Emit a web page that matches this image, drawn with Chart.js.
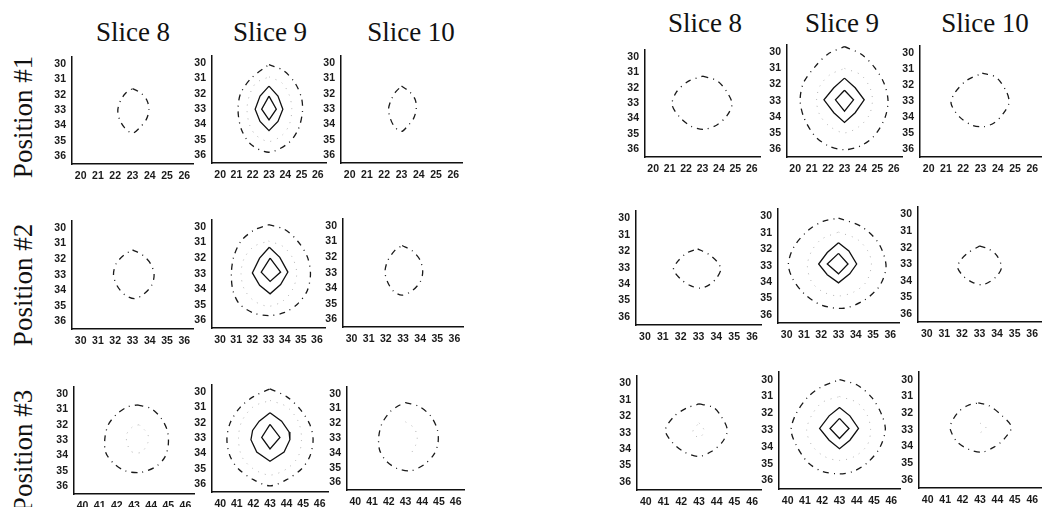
<!DOCTYPE html>
<html><head><meta charset="utf-8">
<script src="https://cdn.jsdelivr.net/npm/chart.js@4"></script>
<style>
html,body{margin:0;padding:0;background:#fff;}
body{width:1042px;height:507px;overflow:hidden;position:relative;}
canvas{position:absolute;}
.title{position:absolute;font-family:"Liberation Serif",serif;font-size:27px;line-height:1;width:200px;text-align:center;color:#111;white-space:nowrap;}
.rowlab{position:absolute;font-family:"Liberation Serif",serif;font-size:27px;line-height:30px;height:30px;width:200px;text-align:center;color:#111;white-space:nowrap;transform:rotate(-90deg);}
</style></head><body>
<script>
// ---------- text ----------
const sliceTitles = ['Slice 8', 'Slice 9', 'Slice 10'];
const rowLabels = ['Position #1', 'Position #2', 'Position #3'];
// ---------- tick labels ----------
const yTicks = [30, 31, 32, 33, 34, 35, 36];
const xTicksP1 = [20, 21, 22, 23, 24, 25, 26];
const xTicksP2 = [30, 31, 32, 33, 34, 35, 36];
const xTicksP3 = [40, 41, 42, 43, 44, 45, 46];

// ---------- contour vertices [x, y] (left figure) ----------
const L1S8_dash = [[23.0,31.6],[23.5,31.9],[23.85,32.4],[23.95,33.0],[23.8,33.6],[23.45,34.1],[23.0,34.5],[22.55,34.15],[22.25,33.6],[22.15,33.0],[22.3,32.4],[22.6,31.9],[23.0,31.6]];
const L1S9_dash = [[23.0,30.1],[23.9,30.5],[24.6,31.3],[25.0,32.3],[25.05,33.2],[24.8,34.3],[24.2,35.2],[23.0,35.8],[21.9,35.3],[21.3,34.3],[21.1,33.1],[21.25,32.0],[21.9,31.0],[23.0,30.1]];
const L1S9_dot = [[23.0,30.9],[23.8,31.3],[24.25,32.1],[24.4,33.0],[24.25,34.0],[23.8,34.7],[23.0,35.1],[22.2,34.7],[21.8,34.0],[21.65,33.0],[21.8,32.1],[22.2,31.3],[23.0,30.9]];
const L1S9_solidOuter = [[23.0,31.5],[23.55,32.15],[23.85,33.0],[23.55,33.8],[23.0,34.4],[22.45,33.8],[22.15,33.0],[22.45,32.15],[23.0,31.5]];
const L1S9_solidInner = [[23.0,32.15],[23.45,33.0],[23.0,33.7],[22.55,33.0],[23.0,32.15]];
const L1S10_dash = [[23.0,31.5],[23.45,31.85],[23.8,32.4],[23.85,33.0],[23.7,33.6],[23.35,34.1],[23.0,34.45],[22.6,34.15],[22.35,33.6],[22.25,33.0],[22.4,32.4],[22.65,31.9],[23.0,31.5]];

const L2S8_dash = [[33.0,31.4],[33.6,31.75],[34.05,32.3],[34.25,33.0],[34.1,33.7],[33.6,34.3],[33.1,34.55],[32.55,34.3],[32.1,33.7],[31.9,33.0],[32.05,32.3],[32.5,31.75],[33.0,31.4]];
const L2S9_dash = [[33.0,29.85],[34.0,30.15],[34.8,30.9],[35.4,31.9],[35.6,33.0],[35.4,34.1],[34.8,34.95],[34.0,35.5],[33.0,35.7],[32.0,35.5],[31.2,34.95],[30.8,34.1],[30.7,33.0],[30.85,31.9],[31.3,30.9],[32.1,30.2],[33.0,29.85]];
const L2S9_dot = [[33.0,30.9],[33.9,31.25],[34.5,32.0],[34.75,33.0],[34.5,34.0],[33.9,34.75],[33.0,35.1],[32.1,34.75],[31.5,34.0],[31.3,33.0],[31.5,32.0],[32.1,31.25],[33.0,30.9]];
const L2S9_solidOuter = [[33.05,31.3],[33.7,31.95],[34.2,32.9],[33.75,33.7],[33.1,34.3],[32.45,33.75],[32.0,32.95],[32.45,32.0],[33.05,31.3]];
const L2S9_solidInner = [[33.1,32.0],[33.75,32.9],[33.1,33.5],[32.55,32.9],[33.1,32.0]];
const L2S10_dash = [[32.95,31.25],[33.55,31.6],[34.0,32.2],[34.15,32.95],[34.0,33.6],[33.55,34.15],[32.95,34.45],[32.45,34.2],[32.1,33.6],[31.95,32.95],[32.1,32.25],[32.5,31.6],[32.95,31.25]];

const L3S8_dash = [[43.2,30.7],[44.0,30.95],[44.6,31.6],[44.95,32.4],[45.0,33.3],[44.8,34.1],[44.3,34.7],[43.4,35.1],[42.5,35.0],[41.8,34.5],[41.35,33.8],[41.3,32.9],[41.5,32.0],[42.0,31.3],[42.6,30.85],[43.2,30.7]];
const L3S8_dot = [[43.3,32.0],[43.8,32.6],[43.8,33.2],[43.4,33.8],[42.8,33.7],[42.55,32.7],[42.95,32.1],[43.3,32.0]];
const L3S9_dash = [[43.0,29.8],[44.0,30.3],[44.8,31.1],[45.4,32.1],[45.6,33.1],[45.4,34.2],[44.9,35.0],[44.0,35.7],[43.0,36.1],[42.0,35.7],[41.1,35.0],[40.6,34.2],[40.4,33.1],[40.6,32.0],[41.2,31.0],[42.0,30.3],[43.0,29.8]];
const L3S9_dot = [[43.0,30.55],[44.0,30.95],[44.7,31.9],[44.9,33.0],[44.7,34.2],[44.0,35.0],[43.0,35.4],[42.0,35.0],[41.3,34.2],[41.1,33.0],[41.3,31.9],[42.0,30.95],[43.0,30.55]];
const L3S9_solidOuter = [[43.0,31.35],[43.7,31.9],[44.15,32.6],[44.2,33.1],[43.85,33.9],[43.0,34.5],[42.2,33.9],[41.85,33.1],[41.95,32.5],[42.35,31.9],[43.0,31.35]];
const L3S9_solidInner = [[43.0,32.1],[43.6,32.95],[43.0,33.7],[42.5,32.95],[43.0,32.1]];
const L3S10_dash = [[43.0,30.6],[43.8,30.85],[44.5,31.5],[44.9,32.4],[44.95,33.3],[44.7,34.1],[44.1,34.8],[43.3,35.2],[42.5,35.05],[41.85,34.55],[41.45,33.8],[41.4,32.9],[41.6,32.0],[42.1,31.2],[42.6,30.8],[43.0,30.6]];
const L3S10_dot = [[43.0,31.9],[43.5,32.3],[43.7,32.9],[43.6,33.5],[43.3,34.1]];

// ---------- contour vertices [x, y] (right figure) ----------
const R1S8_dash = [[23.0,31.25],[23.9,31.55],[24.5,32.3],[24.8,33.05],[24.5,33.8],[23.9,34.4],[23.1,34.7],[22.3,34.5],[21.6,33.9],[21.15,33.1],[21.4,32.3],[22.1,31.6],[23.0,31.25]];
const R1S9_dash = [[23.0,29.65],[24.0,30.1],[24.8,30.9],[25.4,31.9],[25.65,33.0],[25.45,34.1],[24.8,35.2],[24.0,35.8],[23.0,36.05],[22.0,35.8],[21.2,35.2],[20.55,34.1],[20.3,33.0],[20.5,31.9],[21.2,30.9],[22.0,30.1],[23.0,29.65]];
const R1S9_dot = [[23.0,31.0],[24.0,31.4],[24.55,32.2],[24.7,33.0],[24.5,33.9],[23.9,34.6],[23.0,35.0],[22.1,34.6],[21.5,33.9],[21.3,33.0],[21.5,32.1],[22.1,31.4],[23.0,31.0]];
const R1S9_solidOuter = [[23.0,31.6],[23.65,32.2],[24.2,32.95],[23.65,33.75],[23.0,34.35],[22.35,33.75],[21.75,32.95],[22.35,32.2],[23.0,31.6]];
const R1S9_solidInner = [[23.0,32.35],[23.55,32.95],[23.0,33.65],[22.45,32.95],[23.0,32.35]];
const R1S10_dash = [[23.1,31.25],[23.9,31.5],[24.5,32.4],[24.65,33.1],[24.3,33.8],[23.8,34.35],[23.2,34.6],[22.5,34.5],[21.8,34.0],[21.3,33.15],[21.5,32.5],[22.2,31.7],[23.1,31.25]];

const R2S8_dash = [[32.95,31.85],[33.6,32.2],[34.05,32.65],[34.25,33.1],[34.0,33.65],[33.6,34.05],[33.1,34.25],[32.55,34.1],[32.0,33.7],[31.6,33.1],[31.85,32.6],[32.35,32.1],[32.95,31.85]];
const R2S9_dash = [[33.0,30.1],[34.3,30.6],[35.3,31.6],[35.75,33.0],[35.4,34.2],[34.5,35.1],[33.3,35.6],[32.0,35.4],[31.0,34.7],[30.35,33.8],[30.1,32.9],[30.45,31.8],[31.3,30.8],[32.1,30.3],[33.0,30.1]];
const R2S9_dot = [[33.0,30.95],[34.1,31.4],[34.75,32.2],[34.9,33.0],[34.6,34.0],[33.9,34.6],[33.0,34.85],[32.1,34.6],[31.45,34.0],[31.2,33.0],[31.45,32.1],[32.0,31.4],[33.0,30.95]];
const R2S9_solidOuter = [[33.0,31.6],[33.6,32.1],[34.05,32.9],[33.65,33.5],[33.0,34.05],[32.35,33.55],[31.85,32.9],[32.35,32.2],[33.0,31.6]];
const R2S9_solidInner = [[33.0,32.25],[33.55,32.9],[33.0,33.5],[32.35,32.9],[33.0,32.25]];
const R2S10_dash = [[33.0,31.9],[33.55,32.1],[34.0,32.5],[34.25,33.2],[34.0,33.7],[33.6,34.05],[33.15,34.25],[32.6,34.1],[32.1,33.75],[31.75,33.2],[31.9,32.8],[32.3,32.35],[33.0,31.9]];

const R3S8_dash = [[43.0,31.25],[43.8,31.45],[44.25,32.0],[44.6,32.85],[44.3,33.6],[43.7,34.15],[43.0,34.45],[42.2,34.2],[41.5,33.6],[41.1,32.85],[41.6,32.0],[42.3,31.5],[43.0,31.25]];
const R3S8_dot = [[43.0,32.4],[43.3,32.9],[43.0,33.3],[42.65,32.95],[43.0,32.4]];
const R3S9_dash = [[43.0,30.0],[44.0,30.3],[44.9,31.1],[45.45,32.1],[45.65,33.0],[45.3,34.1],[44.6,34.95],[43.8,35.45],[43.0,35.6],[42.0,35.45],[41.2,34.95],[40.55,34.0],[40.2,33.0],[40.5,32.0],[41.2,31.0],[42.0,30.4],[43.0,30.0]];
const R3S9_dot = [[43.0,31.0],[44.0,31.35],[44.6,32.1],[44.8,33.0],[44.6,33.9],[43.9,34.55],[43.0,34.8],[42.1,34.55],[41.4,33.9],[41.1,33.0],[41.4,32.1],[42.0,31.35],[43.0,31.0]];
const R3S9_solidOuter = [[43.0,31.65],[43.6,32.15],[44.1,32.9],[43.6,33.6],[43.0,34.1],[42.4,33.6],[41.85,32.9],[42.4,32.15],[43.0,31.65]];
const R3S9_solidInner = [[43.0,32.3],[43.55,32.9],[43.0,33.5],[42.45,32.9],[43.0,32.3]];
const R3S10_dash = [[42.9,31.4],[43.5,31.55],[44.25,32.15],[44.8,32.85],[44.35,33.6],[43.8,34.05],[43.1,34.35],[42.4,34.2],[41.7,33.75],[41.3,33.0],[41.35,32.6],[41.75,31.95],[42.3,31.55],[42.9,31.4]];
const R3S10_dot = [[43.0,32.6],[43.35,32.9],[43.0,33.2]];

// ---------- styles ----------
const styles = {
  dash:  {borderColor:'#1a1a1a', borderWidth:1.3, borderDash:[6,5,1,5], tension:0.3},
  dot:   {borderColor:'#b4b4b4', borderWidth:1.0, borderDash:[1,6], tension:0.3},
  solid: {borderColor:'#111111', borderWidth:1.3, borderDash:[], tension:0}
};

// ---------- layout (plot-area boxes: left, top, right, bottom) ----------
const panels = [
  {box:[72,49,193,164],  xt:xTicksP1, curves:[[L1S8_dash,'dash']]},
  {box:[212,48,326,163], xt:xTicksP1, curves:[[L1S9_dot,'dot'],[L1S9_dash,'dash'],[L1S9_solidOuter,'solid'],[L1S9_solidInner,'solid']]},
  {box:[341,48,462,163], xt:xTicksP1, curves:[[L1S10_dash,'dash']]},
  {box:[72,213,193,329], xt:xTicksP2, curves:[[L2S8_dash,'dash']]},
  {box:[212,212,325,328],xt:xTicksP2, curves:[[L2S9_dot,'dot'],[L2S9_dash,'dash'],[L2S9_solidOuter,'solid'],[L2S9_solidInner,'solid']]},
  {box:[343,211,463,327],xt:xTicksP2, curves:[[L2S10_dash,'dash']]},
  {box:[74,379,194,494], xt:xTicksP3, curves:[[L3S8_dot,'dot'],[L3S8_dash,'dash']]},
  {box:[212,377,328,492],xt:xTicksP3, curves:[[L3S9_dot,'dot'],[L3S9_dash,'dash'],[L3S9_solidOuter,'solid'],[L3S9_solidInner,'solid']]},
  {box:[347,379,464,490],xt:xTicksP3, curves:[[L3S10_dot,'dot'],[L3S10_dash,'dash']]},

  {box:[645,42,760,157],  xt:xTicksP1, curves:[[R1S8_dash,'dash']]},
  {box:[787,37,902,157],  xt:xTicksP1, curves:[[R1S9_dot,'dot'],[R1S9_dash,'dash'],[R1S9_solidOuter,'solid'],[R1S9_solidInner,'solid']]},
  {box:[920,38,1041,157], xt:xTicksP1, curves:[[R1S10_dash,'dash']]},
  {box:[636,203,761,325], xt:xTicksP2, curves:[[R2S8_dash,'dash']]},
  {box:[778,201,899,323], xt:xTicksP2, curves:[[R2S9_dot,'dot'],[R2S9_dash,'dash'],[R2S9_solidOuter,'solid'],[R2S9_solidInner,'solid']]},
  {box:[918,199,1041,322],xt:xTicksP2, curves:[[R2S10_dash,'dash']]},
  {box:[637,368,761,490], xt:xTicksP3, curves:[[R3S8_dot,'dot'],[R3S8_dash,'dash']]},
  {box:[779,364,900,489], xt:xTicksP3, curves:[[R3S9_dot,'dot'],[R3S9_dash,'dash'],[R3S9_solidOuter,'solid'],[R3S9_solidInner,'solid']]},
  {box:[919,364,1041,488],xt:xTicksP3, curves:[[R3S10_dot,'dot'],[R3S10_dash,'dash']]}
];

const titleCentersLeft = [133, 270, 411];
const titleCentersRight = [705, 842, 985];
const rowCentersY = [117, 285, 451];

function addText(cls, txt, left, top) {
  const d = document.createElement('div');
  d.className = cls; d.textContent = txt;
  d.style.left = left + 'px'; d.style.top = top + 'px';
  document.body.appendChild(d);
}
sliceTitles.forEach((t, i) => {
  addText('title', t, titleCentersLeft[i] - 100, 19);
  addText('title', t, titleCentersRight[i] - 100, 10);
});
rowLabels.forEach((t, i) => addText('rowlab', t, 23 - 100, rowCentersY[i] - 15));

const YW = 30, PT = 5, PR = 7, XH = 24;
const tickFont = {family:'"Liberation Sans", Arial, sans-serif', size:10.5, weight:'bold'};

panels.forEach(p => {
  const [L, T, R, B] = p.box;
  const w = YW + (R - L) + PR, h = PT + (B - T) + XH;
  const c = document.createElement('canvas');
  c.width = w; c.height = h;
  c.style.left = (L - YW) + 'px'; c.style.top = (T - PT) + 'px';
  c.style.width = w + 'px'; c.style.height = h + 'px';
  document.body.appendChild(c);
  new Chart(c, {
    type: 'scatter',
    data: {
      datasets: p.curves.map(([pts, st]) => Object.assign({
        data: pts.map(([x, y]) => ({x, y})),
        showLine: true, pointRadius: 0, pointHoverRadius: 0, fill: false
      }, styles[st]))
    },
    options: {
      responsive: false, animation: false, devicePixelRatio: 1, events: [],
      layout: {padding: {left: 0, top: PT, right: PR, bottom: 0}},
      plugins: {legend: {display: false}, tooltip: {enabled: false}},
      scales: {
        x: {
          type: 'linear', min: p.xt[0] - 0.5, max: p.xt[p.xt.length - 1] + 0.5,
          grid: {display: false, drawTicks: false},
          border: {display: true, color: '#111', width: 1.5},
          ticks: {padding: 6, font: tickFont, color: '#1a1a1a', autoSkip: false, maxRotation: 0},
          afterBuildTicks: s => { s.ticks = p.xt.map(v => ({value: v})); },
          afterFit: s => { s.height = XH; }
        },
        y: {
          type: 'linear', reverse: true, min: yTicks[0] - 0.5, max: yTicks[yTicks.length - 1] + 0.5,
          grid: {display: false, drawTicks: false},
          border: {display: true, color: '#111', width: 1.5},
          ticks: {padding: 6, font: tickFont, color: '#1a1a1a', autoSkip: false},
          afterBuildTicks: s => { s.ticks = yTicks.map(v => ({value: v})); },
          afterFit: s => { s.width = YW; }
        }
      }
    }
  });
});
</script>
</body></html>
